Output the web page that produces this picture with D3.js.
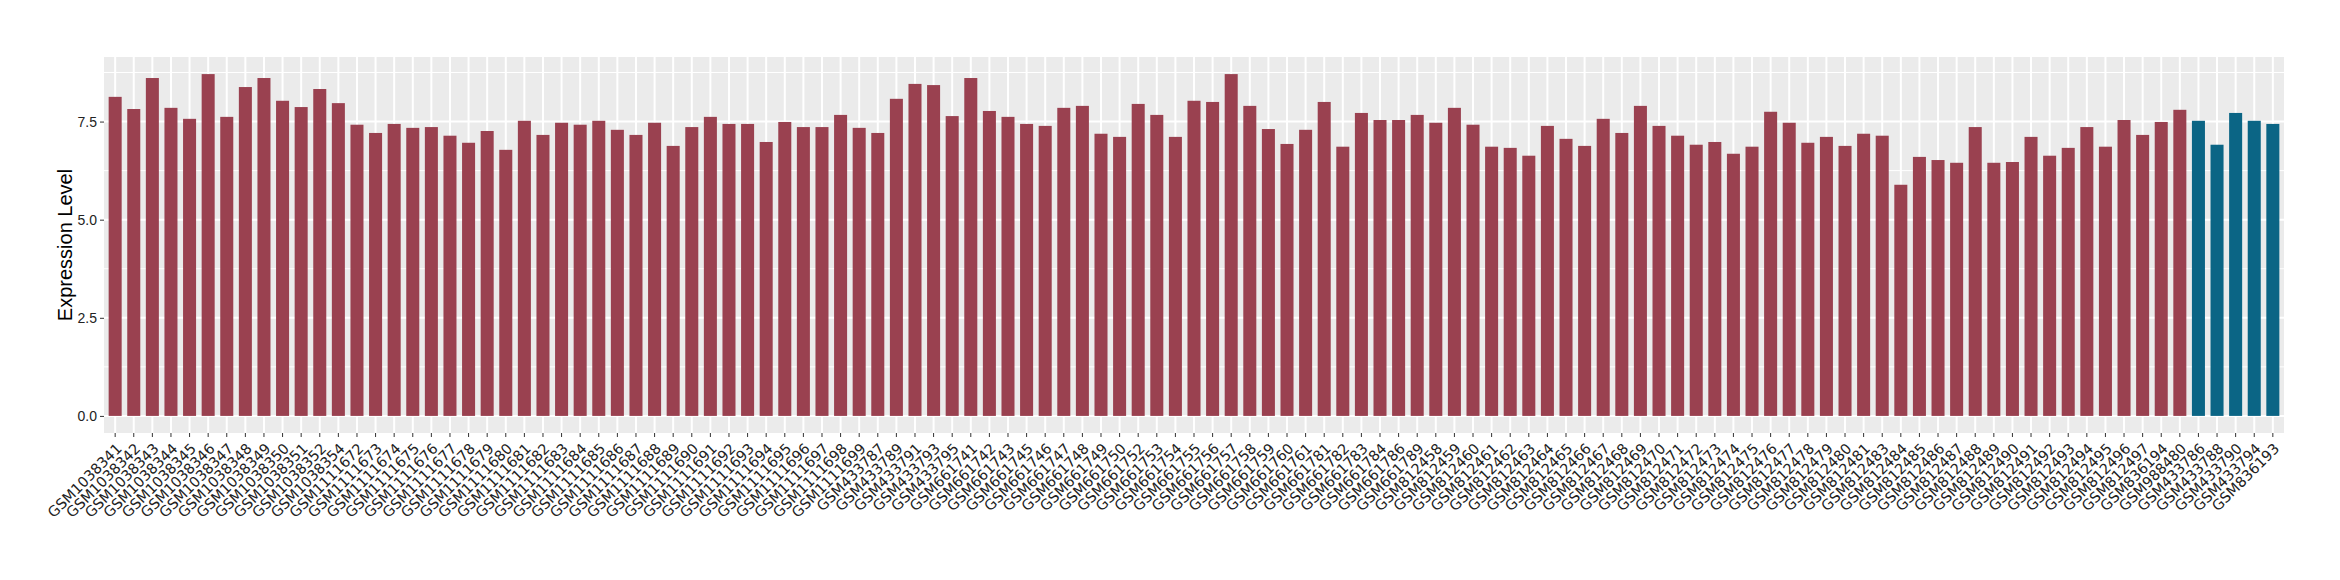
<!DOCTYPE html>
<html>
<head>
<meta charset="utf-8">
<script src="https://cdn.jsdelivr.net/npm/d3@7"></script>
<style>
  html, body { margin: 0; padding: 0; background: #fff; }
  svg text { font-family: "Liberation Sans", Arial, sans-serif; }
</style>
</head>
<body>
<div id="chart"></div>
<script>
// samples drawn in the first (red) group
const redSamples = [
	"GSM1038341", "GSM1038342", "GSM1038343", "GSM1038344", "GSM1038345", "GSM1038346", "GSM1038347",
	"GSM1038348", "GSM1038349", "GSM1038350", "GSM1038351", "GSM1038352", "GSM1038354",
	"GSM1111672", "GSM1111673", "GSM1111674", "GSM1111675", "GSM1111676", "GSM1111677", "GSM1111678",
	"GSM1111679", "GSM1111680", "GSM1111681", "GSM1111682", "GSM1111683", "GSM1111684", "GSM1111685",
	"GSM1111686", "GSM1111687", "GSM1111688", "GSM1111689", "GSM1111690", "GSM1111691", "GSM1111692",
	"GSM1111693", "GSM1111694", "GSM1111695", "GSM1111696", "GSM1111697", "GSM1111698", "GSM1111699",
	"GSM433787", "GSM433789", "GSM433791", "GSM433793", "GSM433795",
	"GSM661741", "GSM661742", "GSM661743", "GSM661745", "GSM661746", "GSM661747", "GSM661748",
	"GSM661749", "GSM661750", "GSM661752", "GSM661753", "GSM661754", "GSM661755", "GSM661756",
	"GSM661757", "GSM661758", "GSM661759", "GSM661760", "GSM661761", "GSM661781", "GSM661782",
	"GSM661783", "GSM661784", "GSM661786", "GSM661789",
	"GSM812458", "GSM812459", "GSM812460", "GSM812461", "GSM812462", "GSM812463", "GSM812464",
	"GSM812465", "GSM812466", "GSM812467", "GSM812468", "GSM812469", "GSM812470", "GSM812471",
	"GSM812472", "GSM812473", "GSM812474", "GSM812475", "GSM812476", "GSM812477", "GSM812478",
	"GSM812479", "GSM812480", "GSM812481", "GSM812483", "GSM812484", "GSM812485", "GSM812486",
	"GSM812487", "GSM812488", "GSM812489", "GSM812490", "GSM812491", "GSM812492", "GSM812493",
	"GSM812494", "GSM812495", "GSM812496", "GSM812497",
	"GSM836194", "GSM988480"
];
const redValues = [
	8.13, 7.82, 8.61, 7.85, 7.57, 8.71, 7.62, 8.38, 8.61, 8.03, 7.87, 8.33, 7.97,
	7.42, 7.21, 7.44, 7.34, 7.36, 7.14, 6.96, 7.26, 6.78, 7.52, 7.16, 7.47, 7.42, 7.52,
	7.29, 7.16, 7.47, 6.88, 7.36, 7.62, 7.44, 7.44, 6.98, 7.49, 7.36, 7.36, 7.67, 7.34,
	7.21, 8.08, 8.46, 8.43, 7.64,
	8.61, 7.77, 7.62, 7.44, 7.39, 7.85, 7.90, 7.19, 7.11, 7.95, 7.67, 7.11, 8.03,
	8.00, 8.71, 7.90, 7.31, 6.93, 7.29, 8.00, 6.86, 7.72, 7.54, 7.54, 7.67,
	7.47, 7.85, 7.42, 6.86, 6.83, 6.63, 7.39, 7.06, 6.88, 7.57, 7.21, 7.90, 7.39, 7.14,
	6.91, 6.98, 6.68, 6.86, 7.75, 7.47, 6.96, 7.11, 6.88, 7.19, 7.14, 5.89, 6.60, 6.52,
	6.45, 7.36, 6.45, 6.47, 7.11, 6.63, 6.83, 7.36, 6.86, 7.54, 7.16,
	7.49, 7.80
];

// samples drawn in the second (blue) group
const blueSamples = ["GSM433786", "GSM433788", "GSM433790", "GSM433794", "GSM836193"];
const blueValues = [7.52, 6.91, 7.72, 7.52, 7.44];

const yTicks = [0, 2.5, 5, 7.5];
const yMinorTicks = [1.25, 3.75, 6.25, 8.75];
const yTitle = "Expression Level";

const width = 2340;
const height = 580;
const margin = {top: 57, right: 56, bottom: 147, left: 104};

const data = redSamples.map((s, i) => ({sample: s, value: redValues[i], group: "red"}))
	.concat(blueSamples.map((s, i) => ({sample: s, value: blueValues[i], group: "blue"})));

const svg = d3.select("#chart").append("svg")
	.attr("width", width)
	.attr("height", height);

const graphWidth = width - margin.left - margin.right;
const graphHeight = height - margin.top - margin.bottom;

const g = svg.append("g")
	.attr("transform", "translate(" + margin.left + "," + margin.top + ")");

// ggplot-like: bar width 0.7, 0.6 expansion on both sides
const x = d3.scaleBand()
	.domain(data.map(d => d.sample))
	.range([0, graphWidth])
	.paddingInner(0.3)
	.paddingOuter(0.25);

const yMax = d3.max(data, d => d.value);
const y = d3.scaleLinear()
	.domain([-0.05 * yMax, 1.05 * yMax])
	.range([graphHeight, 0]);

const color = d3.scaleOrdinal()
	.domain(["red", "blue"])
	.range(["#9A4150", "#0B6585"]);

// panel
g.append("rect")
	.attr("width", graphWidth)
	.attr("height", graphHeight)
	.attr("fill", "#EBEBEB");

g.selectAll(".minor")
	.data(yMinorTicks)
	.enter().append("line")
	.attr("x1", 0)
	.attr("x2", graphWidth)
	.attr("y1", d => y(d))
	.attr("y2", d => y(d))
	.style("stroke", "#fff")
	.style("stroke-width", 1);

g.selectAll(".major")
	.data(yTicks)
	.enter().append("line")
	.attr("x1", 0)
	.attr("x2", graphWidth)
	.attr("y1", d => y(d))
	.attr("y2", d => y(d))
	.style("stroke", "#fff")
	.style("stroke-width", 2);

g.selectAll(".vgrid")
	.data(data)
	.enter().append("line")
	.attr("x1", d => x(d.sample) + x.bandwidth() / 2)
	.attr("x2", d => x(d.sample) + x.bandwidth() / 2)
	.attr("y1", 0)
	.attr("y2", graphHeight)
	.style("stroke", "#fff")
	.style("stroke-width", 2);

// bars
g.selectAll(".bar")
	.data(data)
	.enter().append("rect")
	.attr("x", d => x(d.sample))
	.attr("width", x.bandwidth())
	.attr("y", d => y(d.value))
	.attr("height", d => y(0) - y(d.value))
	.attr("fill", d => color(d.group));

// axes
const leftAxis = g.append("g")
	.call(d3.axisLeft(y).tickValues(yTicks).tickFormat(d3.format(".1f")).tickSize(4).tickPadding(3));
leftAxis.select(".domain").remove();
leftAxis.selectAll(".tick line").attr("stroke", "#333");
leftAxis.selectAll(".tick text")
	.attr("fill", "#222")
	.style("font-size", "14px");

const bottomAxis = g.append("g")
	.attr("transform", "translate(0," + graphHeight + ")")
	.call(d3.axisBottom(x).tickSize(4));
bottomAxis.select(".domain").remove();
bottomAxis.selectAll(".tick line").attr("stroke", "#333");
bottomAxis.selectAll(".tick text")
	.attr("fill", "#222")
	.style("font-family", "'DejaVu Sans', sans-serif")
	.style("font-size", "14.5px")
	.attr("text-anchor", "end")
	.attr("y", 0)
	.attr("dy", "0.73em")
	.attr("transform", "translate(0,9) rotate(-45)");

svg.append("text")
	.attr("transform", "translate(72," + (margin.top + graphHeight / 2) + ") rotate(-90)")
	.attr("text-anchor", "middle")
	.attr("fill", "#000")
	.style("font-size", "20px")
	.text(yTitle);
</script>
</body>
</html>
